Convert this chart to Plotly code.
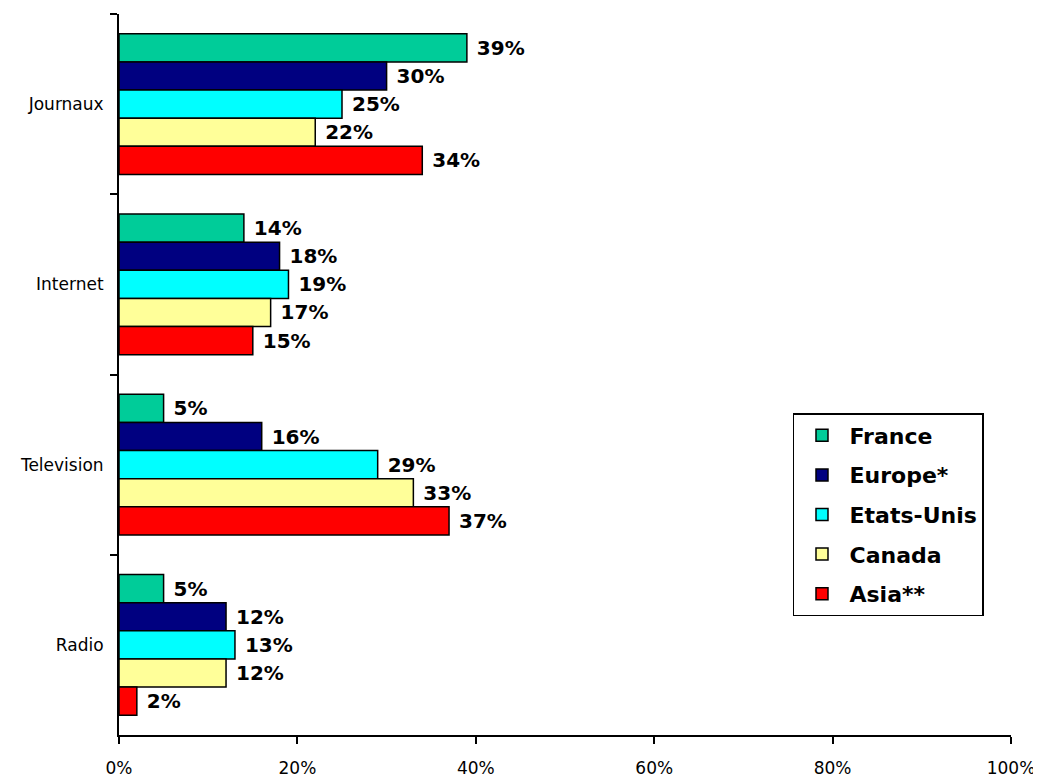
import plotly.graph_objects as go

categories = ["Journaux", "Internet", "Television", "Radio"]

france = [39, 14, 5, 5]
europe = [30, 18, 16, 12]
etats_unis = [25, 19, 29, 13]
canada = [22, 17, 33, 12]
asia = [34, 15, 37, 2]

series_names = ["France", "Europe*", "Etats-Unis", "Canada", "Asia**"]
colors = ["#00CC99", "#000080", "#00FFFF", "#FFFF99", "#FF0000"]

tick_vals = [0, 20, 40, 60, 80, 100]
tick_text = ["0%", "20%", "40%", "60%", "80%", "100%"]

fig = go.Figure()

for name, values, color in zip(series_names, [france, europe, etats_unis, canada, asia], colors):
    fig.add_trace(go.Bar(
        y=categories, x=values, name=name, orientation="h",
        legendgroup=name,
        marker=dict(color=color, line=dict(color="black", width=1.5)),
        text=[f" {v}%" for v in values], textposition="outside",
        textfont=dict(family="DejaVu Sans", size=20, color="black", weight="bold"),
        cliponaxis=False,
    ))

# the page body adds 8px offset, margins compensate for it
fig.update_layout(
    barmode="group",
    bargap=0.22,
    bargroupgap=0,
    width=1041, height=778,
    margin=dict(l=111, r=38, t=6, b=51),
    plot_bgcolor="white",
    paper_bgcolor="white",
    font=dict(family="DejaVu Sans", size=17, color="black"),
    legend=dict(
        x=0.7556, y=0.4466, xanchor="left", yanchor="top",
        bordercolor="black", borderwidth=1.5,
        font=dict(family="DejaVu Sans", size=22, weight="bold"),
        tracegroupgap=8,
        itemwidth=45,
    ),
)

fig.update_xaxes(
    range=[0, 100], tickvals=tick_vals, ticktext=tick_text,
    tickfont=dict(size=17),
    showline=True, linecolor="black", linewidth=2,
    ticks="outside", tickcolor="black", ticklen=7, tickwidth=2,
    ticklabelstandoff=10,
    showgrid=False, zeroline=False,
)
fig.update_yaxes(
    autorange="reversed",
    tickfont=dict(size=17),
    showline=True, linecolor="black", linewidth=2,
    ticks="outside", tickcolor="black", ticklen=7, tickwidth=2,
    tickson="boundaries", ticklabelstandoff=10,
    showgrid=False,
)

fig.write_html("out.html")
